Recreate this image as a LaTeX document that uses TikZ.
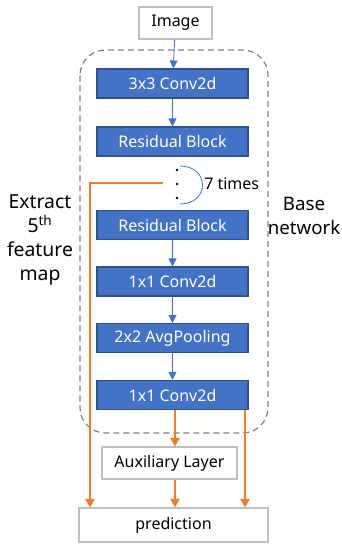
\documentclass[tikz,border=0pt]{standalone}
\usepackage{fontspec}
\setmainfont{Noto Sans}
\usetikzlibrary{arrows.meta,calc}
\definecolor{bblue}{HTML}{4472C4}
\definecolor{bborder}{HTML}{2F528F}
\definecolor{orng}{HTML}{ED7D31}
\definecolor{dgray}{HTML}{7F7F7F}
\begin{document}
\begin{tikzpicture}[x=0.75pt,y=-0.75pt,
  blk/.style={draw=bborder,fill=bblue,line width=0.8pt,minimum width=113.25pt,minimum height=21.75pt,inner sep=0pt,text=white,font=\fontsize{12}{14}\selectfont},
  wbox/.style={draw=black!25,fill=white,line width=0.8pt,inner sep=0pt,font=\fontsize{12}{14}\selectfont},
  barrow/.style={draw=bblue,line width=0.6pt,-{Triangle[length=6pt,width=6pt]}},
  oarrow/.style={draw=orng,line width=1.6pt,-{Triangle[length=6.5pt,width=7pt]}},
  side/.style={align=center,font=\fontsize{14.5}{18}\selectfont}]
\useasboundingbox (0,0) rectangle (342,544);
% dashed container
\draw[dgray,dashed,line width=0.9pt,dash pattern=on 4.5pt off 3pt,rounded corners=19pt] (80,50) rectangle (268,433);
\node[wbox,minimum width=54.75pt,minimum height=24pt] (img) at (175.5,23) {Image};
\node[blk] (c1) at (172.5,83.5) {3x3 Conv2d};
\node[blk] (r1) at (172.5,141.5) {Residual Block};
\node[blk] (r2) at (172.5,225) {Residual Block};
\node[blk] (c2) at (172.5,281.5) {1x1 Conv2d};
\node[blk] (ap) at (172.5,338) {2x2 AvgPooling};
\node[blk] (c3) at (172.5,395) {1x1 Conv2d};
\node[wbox,minimum width=101.25pt,minimum height=24pt] (aux) at (169.5,463) {Auxiliary Layer};
\node[wbox,minimum width=141.75pt,minimum height=25.5pt] (pred) at (173.5,525) {prediction};
% dots and arc
\fill (177,170) circle (1.1pt) (177,184) circle (1.1pt) (177,198) circle (1.1pt);
\draw[bblue,line width=0.6pt] (180,166) .. controls (210,166) and (210,204) .. (180,204);
\node[anchor=west,inner sep=0pt,font=\fontsize{12}{14}\selectfont] (seven) at (204,184) {7 times};
% blue arrows
\draw[barrow] (img) -- (c1);
\draw[barrow] (c1) -- (r1);
\draw[barrow] (r2) -- (c2);
\draw[barrow] (c2) -- (ap);
\draw[barrow] (ap) -- (c3);
% orange arrows
\coordinate (ext) at (163,183);
\coordinate (lft) at (90,183);
\draw[oarrow] (ext) -- (lft) -- (lft |- pred.north);
\draw[oarrow] (c3.south -| 175,0) -- (aux.north -| 175,0);
\draw[oarrow] (aux.south -| 175,0) -- (pred.north -| 175,0);
\draw[oarrow] (c3.south -| 245,0) -- (pred.north -| 245,0);
% side labels
\node[side] (extract) at (40,240) {Extract\\5\textsuperscript{th}\\feature\\map};
\node[side,font=\fontsize{14}{18}\selectfont] (base) at (304,216) {Base\\network};
\end{tikzpicture}
\end{document}
